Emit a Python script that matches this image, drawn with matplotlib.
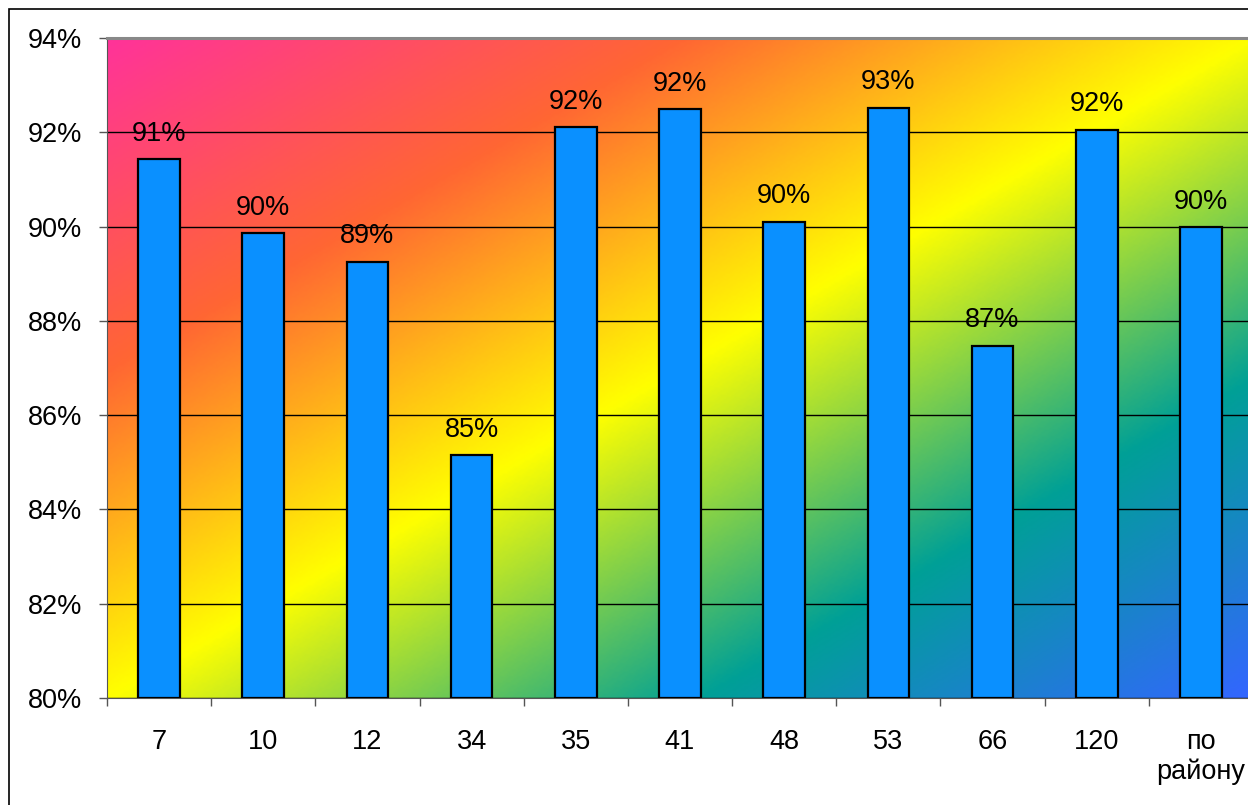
import numpy as np
import matplotlib
matplotlib.use('Agg')
import matplotlib.pyplot as plt
from matplotlib.colors import LinearSegmentedColormap
from matplotlib.patches import Rectangle

plt.rcParams['font.family'] = ['Liberation Sans', 'DejaVu Sans']

categories = ['7', '10', '12', '34', '35', '41', '48', '53', '66', '120', 'по\nрайону']
values = [91.43, 89.86, 89.25, 85.15, 92.11, 92.49, 90.10, 92.52, 87.47, 92.05, 89.99]
yticks = [80, 82, 84, 86, 88, 90, 92, 94]

# diagonal rainbow fill of the plot area
grad = LinearSegmentedColormap.from_list('bg', [
    (0.0, '#FF3399'),
    (0.25, '#FF6633'),
    (0.5, '#FFFF00'),
    (0.76, '#00A096'),
    (1.0, '#3366FF'),
])

fig = plt.figure(figsize=(12.48, 8.05), dpi=100)
fig.patches.append(Rectangle((9 / 1248, -0.1), 1.2, (805 - 9) / 805 + 0.1,
                             transform=fig.transFigure, fill=False,
                             edgecolor='black', lw=1.2, zorder=0))

ax = fig.add_axes([107 / 1248, 107 / 805, 1146 / 1248, 660 / 805])

n = len(categories)
u, v = np.meshgrid(np.linspace(0, 1, 400), np.linspace(0, 1, 300))
t = (u + v) / 2  # v=0 is the top row
ax.imshow(grad(t), extent=(-0.5, n - 0.5, 80, 94), origin='upper',
          aspect='auto', interpolation='bilinear', zorder=0)

x = np.arange(n)
ax.bar(x, [val - 80 for val in values], bottom=80, width=0.4,
       color='#0A90FF', edgecolor='black', linewidth=1.6, zorder=3)

for xi, val in zip(x, values):
    ax.annotate(f'{round(val):.0f}%', (xi, val), xytext=(0, 9),
                textcoords='offset points', ha='center', va='bottom',
                fontsize=19.5, zorder=4)

ax.set_xlim(-0.5, n - 0.5)
ax.set_ylim(80, 94)
ax.set_yticks(yticks)
ax.set_yticklabels([f'{y}%' for y in yticks], fontsize=19.5)
ax.set_xticks(x)
ax.set_xticklabels(categories, fontsize=19.5, va='top', linespacing=1.2)
ax.set_xticks(np.arange(-0.5, n, 1), minor=True)
ax.tick_params(axis='x', which='major', length=0, pad=22)
ax.tick_params(axis='x', which='minor', length=6, width=1, color='#555555')
ax.tick_params(axis='y', length=6, width=1, color='#555555', pad=12)

ax.grid(axis='y', color='black', linewidth=1)
for line in ax.get_ygridlines():
    line.set_zorder(1)

ax.spines['top'].set_color('#888888')
ax.spines['top'].set_linewidth(2.2)
ax.spines['left'].set_color('#555555')
ax.spines['bottom'].set_color('#555555')
ax.spines['right'].set_visible(False)

fig.savefig('out.png', dpi=100)
